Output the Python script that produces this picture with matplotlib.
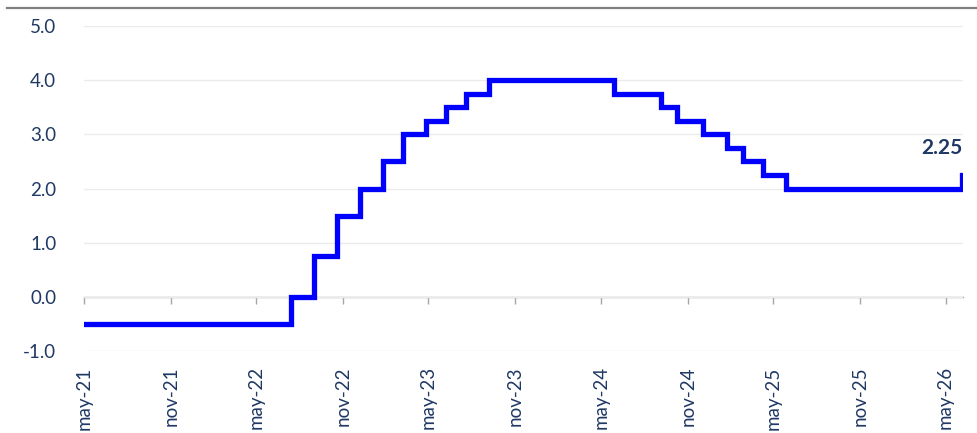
import matplotlib.pyplot as plt
from matplotlib.lines import Line2D
import pandas as pd

# ECB deposit facility rate, % (step changes)
change_dates = [
    "2021-05-15", "2022-07-27", "2022-09-14", "2022-11-02", "2022-12-21",
    "2023-02-08", "2023-03-22", "2023-05-10", "2023-06-21", "2023-08-02",
    "2023-09-20", "2024-06-12", "2024-09-18", "2024-10-23", "2024-12-18",
    "2025-02-05", "2025-03-12", "2025-04-23", "2025-06-11", "2026-06-18",
]
rates = [
    -0.50, 0.00, 0.75, 1.50, 2.00,
    2.50, 3.00, 3.25, 3.50, 3.75,
    4.00, 3.75, 3.50, 3.25, 3.00,
    2.75, 2.50, 2.25, 2.00, 2.25,
]
tick_dates = [
    "2021-05-15", "2021-11-15", "2022-05-15", "2022-11-15", "2023-05-15",
    "2023-11-15", "2024-05-15", "2024-11-15", "2025-05-15", "2025-11-15",
    "2026-05-15",
]
tick_labels = [
    "may-21", "nov-21", "may-22", "nov-22", "may-23",
    "nov-23", "may-24", "nov-24", "may-25", "nov-25", "may-26",
]
y_ticks = [-1.0, 0.0, 1.0, 2.0, 3.0, 4.0, 5.0]

NAVY = "#1F3864"
plt.rcParams["font.family"] = ["Lato", "DejaVu Sans"]

dates = pd.to_datetime(change_dates)
ticks = pd.to_datetime(tick_dates)

fig = plt.figure(figsize=(9.77, 4.33), dpi=100)
ax = fig.add_axes([84 / 977, 82 / 433, (963 - 84) / 977, (351 - 26) / 433])

ax.plot(dates, rates, drawstyle="steps-post", color="#0000FF", linewidth=3.8,
        solid_joinstyle="miter", zorder=3)

ax.set_xlim(dates[0], pd.Timestamp("2026-06-21"))
ax.set_ylim(-1.0, 5.0)
ax.set_yticks(y_ticks)
ax.set_yticklabels([f"{v:.1f}" for v in y_ticks])
ax.set_xticks(ticks)
ax.set_xticklabels(tick_labels, rotation=90)
ax.tick_params(axis="y", length=0, pad=20, labelsize=13.5, labelcolor=NAVY)
ax.tick_params(axis="x", length=0, pad=11, labelsize=13.5, labelcolor=NAVY)

ax.grid(axis="y", color="#EBEBEB", linewidth=1)
ax.set_axisbelow(True)
for side in ["top", "right", "left", "bottom"]:
    ax.spines[side].set_visible(False)

# axis line at zero with its own tick marks
zero_axis = ax.secondary_xaxis(0, transform=ax.transData)
zero_axis.set_xticks(ticks)
zero_axis.set_xticklabels([])
zero_axis.tick_params(length=5, width=1, color="#A6A6A6", direction="out")
zero_axis.spines["bottom"].set_color("#A6A6A6")
zero_axis.spines["bottom"].set_linewidth(1)

ax.annotate(f"{rates[-1]:.2f}", xy=(dates[-1], rates[-1]), xytext=(1, 12),
            textcoords="offset points", ha="right", va="bottom",
            fontsize=15, fontweight="bold", color=NAVY)

fig.add_artist(Line2D([7 / 977, 1.0], [1 - 8 / 433, 1 - 8 / 433],
                      color="#808080", linewidth=1.6))

fig.savefig("out.png", dpi=100)
